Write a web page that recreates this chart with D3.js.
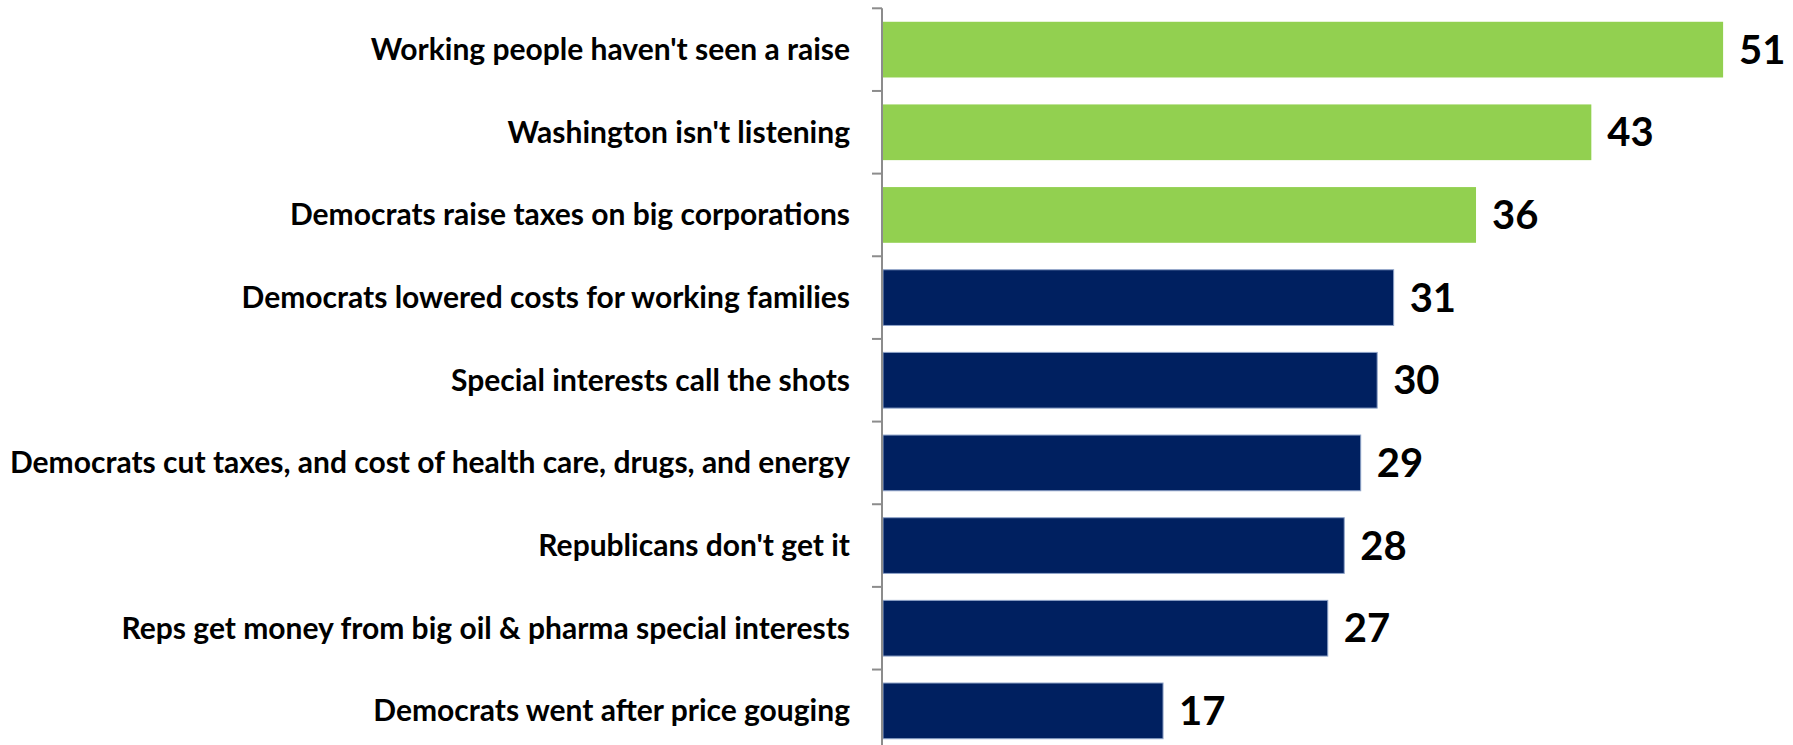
<!DOCTYPE html>
<html>
<head>
<meta charset="utf-8">
<script src="https://cdn.jsdelivr.net/npm/d3@7"></script>
<style>
  html, body { margin: 0; padding: 0; background: #fff; overflow: hidden; }
  svg { display: block; }
</style>
</head>
<body>
<svg id="chart" width="1793" height="745"></svg>
<script>
const categories = [
  "Working people haven't seen a raise",
  "Washington isn't listening",
  "Democrats raise taxes on big corporations",
  "Democrats lowered costs for working families",
  "Special interests call the shots",
  "Democrats cut taxes, and cost of health care, drugs, and energy",
  "Republicans don't get it",
  "Reps get money from big oil & pharma special interests",
  "Democrats went after price gouging"
];
const values = [51, 43, 36, 31, 30, 29, 28, 27, 17];
const groups = ["top", "top", "top", "other", "other", "other", "other", "other", "other"];

const svg = d3.select("#chart");
const axisX = 882;
const x = d3.scaleLinear().domain([0, 55]).range([axisX + 1, 1789]);
const y = d3.scaleBand().domain(categories).range([8.3, 752.2]).paddingInner(0.326).paddingOuter(0.163);
const color = d3.scaleOrdinal().domain(["top", "other"]).range(["#92D050", "#002060"]);

const data = categories.map((c, i) => ({ c, v: values[i], g: groups[i] }));

svg.append("g").selectAll("rect").data(data).join("rect")
  .attr("x", x(0))
  .attr("y", d => y(d.c))
  .attr("width", d => x(d.v) - x(0))
  .attr("height", y.bandwidth())
  .attr("fill", d => color(d.g))
  .attr("stroke", d => d.g === "other" ? "#8EA3C8" : "none")
  .attr("stroke-width", 1);

// axis line and ticks at band boundaries
const step = y.step();
const start = y.range()[0];
const tickYs = d3.range(categories.length + 1).map(i => start + i * step);
const axisG = svg.append("g");
axisG.append("line")
  .attr("x1", axisX).attr("x2", axisX)
  .attr("y1", tickYs[0]).attr("y2", tickYs[tickYs.length - 1])
  .attr("stroke", "#8c8c8c").attr("stroke-width", 2);
axisG.selectAll("line.tick").data(tickYs).join("line")
  .attr("class", "tick")
  .attr("x1", axisX - 10).attr("x2", axisX)
  .attr("y1", d => d).attr("y2", d => d)
  .attr("stroke", "#8c8c8c").attr("stroke-width", 2);

// category labels
svg.append("g").selectAll("text").data(data).join("text")
  .attr("x", 850)
  .attr("y", d => y(d.c) + y.bandwidth() / 2 + 10.5)
  .attr("text-anchor", "end")
  .attr("font-family", "Lato, 'Open Sans', sans-serif")
  .attr("font-weight", "bold")
  .attr("font-size", 30)
  .attr("fill", "#000")
  .text(d => d.c);

// value labels
svg.append("g").selectAll("text").data(data).join("text")
  .attr("x", d => x(d.v) + 16)
  .attr("y", d => y(d.c) + y.bandwidth() / 2 + 14)
  .attr("font-family", "Lato, 'Open Sans', sans-serif")
  .attr("font-weight", "bold")
  .attr("font-size", 40)
  .attr("fill", "#000")
  .text(d => d.v);
</script>
</body>
</html>
